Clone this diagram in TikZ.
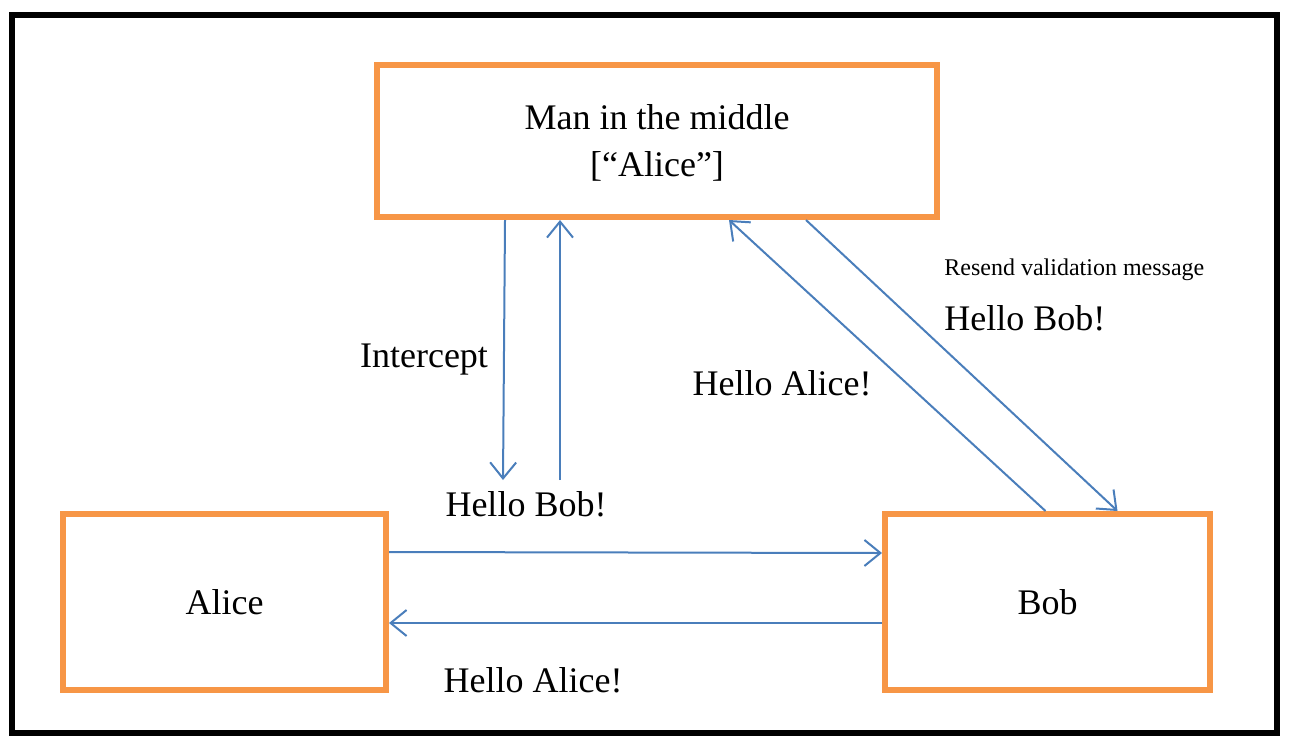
\documentclass[tikz,border=0pt]{standalone}
\usepackage{fontspec}
\setmainfont{Liberation Serif}
\usetikzlibrary{arrows.meta}
\definecolor{boxorange}{HTML}{F79646}
\definecolor{msgblue}{HTML}{4A7EBB}

\begin{document}
\begin{tikzpicture}
  [
  x=0.5pt, y=-0.5pt,
  party/.style={rectangle,align=center,draw=boxorange,line width=3pt,font=\fontsize{18}{23.5}\selectfont},
  msg/.style={-{Straight Barb[length=8pt,width=13pt]},draw=msgblue,line width=1pt},
  txt/.style={font=\fontsize{18}{22}\selectfont},
  small/.style={font=\fontsize{12}{14}\selectfont}
  ]
  \useasboundingbox (0,0) rectangle (1293,745);
  \draw [line width=3pt] (12,15) rectangle (1277,733);

  \node (mitm)  [party] at (657,141) [minimum width=280pt,minimum height=76pt,text depth=0pt] {
    Man in the middle \\ {[}“Alice”]
  };
  \node (alice) [party] at (224.5,602) [minimum width=161.5pt,minimum height=88pt] {Alice};
  \node (bob)   [party] at (1047.5,602) [minimum width=162.5pt,minimum height=88pt] {Bob};

  \coordinate (tapin)  at (503,480);
  \coordinate (tapout) at (560,480);

  \node (intercept)  [txt] at (424,360) {Intercept};
  \node (hellobob)   [txt] at (526,504) {Hello Bob!};
  \node (helloalice) [txt] at (533,680) {Hello Alice!};
  \node (reply)      [txt] at (782,383) {Hello Alice!};
  \node (resend)     [small,anchor=west,inner sep=0pt] at (944,270) {Resend validation message};
  \node (resendbob)  [txt,anchor=west,inner sep=0pt] at (944,318) {Hello Bob!};

  \draw [msg] ([yshift=25pt]alice.east) -- ([yshift=24.5pt]bob.west);
  \draw [msg] ([yshift=-10.5pt]bob.west) -- ([yshift=-10.5pt]alice.east);
  \draw [msg] ([xshift=-76pt]mitm.south) -- (tapin);
  \draw [msg] (tapout) -- ([xshift=-48.5pt]mitm.south);
  \draw [msg] ([xshift=-1pt]bob.north) -- ([xshift=36pt]mitm.south);
  \draw [msg] ([xshift=74.5pt]mitm.south) -- ([xshift=35pt]bob.north);
\end{tikzpicture}
\end{document}
